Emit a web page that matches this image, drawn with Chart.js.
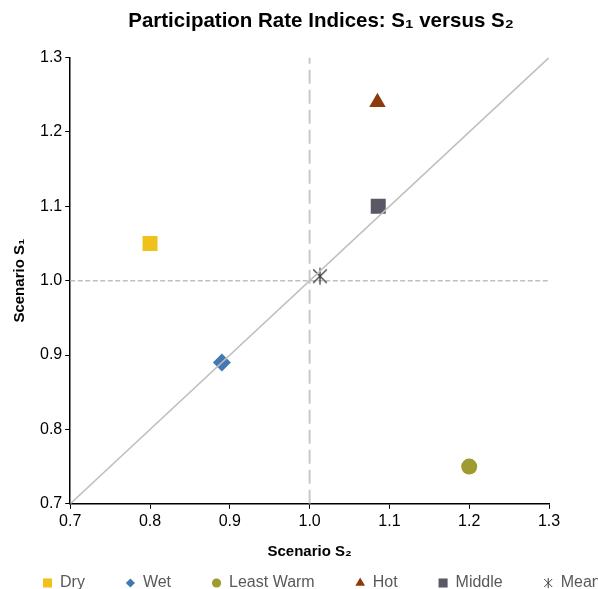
<!DOCTYPE html>
<html>
<head>
<meta charset="utf-8">
<title>Participation Rate Indices</title>
<script src="https://cdn.jsdelivr.net/npm/chart.js@4.4.1/dist/chart.umd.min.js"></script>
<style>
  html, body { margin: 0; padding: 0; background: #fff; overflow: hidden; }
  #wrap { width: 640px; height: 589px; }
</style>
</head>
<body>
<div id="wrap"><canvas id="chart"></canvas></div>
<script>
// scenario indices
const seriesNames = ["Dry", "Wet", "Least Warm", "Hot", "Middle", "Mean"];
const s2Values = [0.80, 0.89, 1.20, 1.085, 1.086, 1.013];
const s1Values = [1.05, 0.89, 0.75, 1.24, 1.10, 1.006];

const axisRange = [0.7, 1.3];
const tickValues = [0.7, 0.8, 0.9, 1.0, 1.1, 1.2, 1.3];
const parityValue = 1.0;

const markerColors = ["#EFC11A", "#4478B0", "#9E9B30", "#8C3A0C", "#5A5767", "#404040"];
const markerStyles = ["rect", "rectRot", "circle", "triangle", "rect", "asterisk"];
const markerRadius = [10.6, 9, 8, 9.5, 10.6, 0];

Chart.defaults.font.family = "'Liberation Sans', Arial, sans-serif";

// Excel-like asterisk marker (x with a vertical bar)
function asteriskImage(size, color) {
  const c = document.createElement("canvas");
  c.width = size; c.height = size;
  const g = c.getContext("2d");
  const m = size / 2, a = size / 2 - 1.5;
  g.strokeStyle = color;
  g.lineWidth = 1.3;
  g.beginPath();
  g.moveTo(m, m - a); g.lineTo(m, m + a);
  g.moveTo(m - a * 0.8, m - a * 0.8); g.lineTo(m + a * 0.8, m + a * 0.8);
  g.moveTo(m + a * 0.8, m - a * 0.8); g.lineTo(m - a * 0.8, m + a * 0.8);
  g.stroke();
  return c;
}

const pointDatasets = seriesNames.map((name, i) => ({
  label: name,
  data: [{ x: s2Values[i], y: s1Values[i] }],
  pointStyle: markerStyles[i] === "asterisk" ? asteriskImage(20, markerColors[i]) : markerStyles[i],
  pointRadius: markerRadius[i] || 8,
  pointHoverRadius: markerRadius[i] || 8,
  backgroundColor: markerColors[i],
  borderColor: markerColors[i],
  pointBorderWidth: 0,
  order: 1
}));

const lineDatasets = [
  {
    label: "diagonal",
    data: axisRange.map(v => ({ x: v, y: v })),
    showLine: true, borderColor: "#BFBFBF", borderWidth: 1.5,
    pointRadius: 0, order: 0
  },
  {
    label: "vertical",
    data: axisRange.map(v => ({ x: parityValue, y: v })),
    showLine: true, borderColor: "#C8C8C8", borderWidth: 2, borderDash: [14, 6],
    pointRadius: 0, order: 2
  },
  {
    label: "horizontal",
    data: axisRange.map(v => ({ x: v, y: parityValue })),
    showLine: true, borderColor: "#BFBFBF", borderWidth: 1.5, borderDash: [5, 2.5],
    pointRadius: 0, order: 2
  }
];

function drawLegendMarker(ctx, i, x, y) {
  const style = markerStyles[i];
  ctx.fillStyle = markerColors[i];
  ctx.strokeStyle = markerColors[i];
  if (style === "asterisk") {
    ctx.lineWidth = 1;
    ctx.beginPath();
    ctx.moveTo(x, y - 5); ctx.lineTo(x, y + 5);
    ctx.moveTo(x - 4, y - 4); ctx.lineTo(x + 4, y + 4);
    ctx.moveTo(x + 4, y - 4); ctx.lineTo(x - 4, y + 4);
    ctx.stroke();
    return;
  }
  const r = { rect: 6.4, rectRot: 4.6, circle: 4.6, triangle: 5.6 }[style];
  if (Chart.helpers && Chart.helpers.drawPoint) {
    Chart.helpers.drawPoint(ctx, { pointStyle: style, radius: r, rotation: 0, borderWidth: 0 }, x, y);
  } else {
    ctx.fillRect(x - 4.5, y - 4.5, 9, 9);
  }
}

const bottomLegend = {
  id: "bottomLegend",
  afterDraw(chart) {
    const ctx = chart.ctx;
    ctx.save();
    ctx.font = "16px 'Liberation Sans', Arial, sans-serif";
    ctx.textBaseline = "middle";
    let x = 43;
    const y = chart.height - 6;
    seriesNames.forEach((name, i) => {
      drawLegendMarker(ctx, i, x + 4.5, y);
      ctx.fillStyle = "#595959";
      ctx.fillText(name, x + 17, y);
      x += 17 + ctx.measureText(name).width + 41;
    });
    ctx.restore();
  }
};

const setTicks = scale => { scale.ticks = tickValues.map(v => ({ value: v })); };

new Chart(document.getElementById("chart"), {
  type: "scatter",
  data: { datasets: [...lineDatasets, ...pointDatasets] },
  options: {
    responsive: true,
    maintainAspectRatio: false,
    animation: false,
    events: [],
    layout: { padding: { left: 2, top: 0, right: 0, bottom: 28 } },
    plugins: {
      legend: { display: false },
      tooltip: { enabled: false },
      title: {
        display: true,
        text: "Participation Rate Indices: S\u2081 versus S\u2082",
        color: "#000",
        font: { size: 20.5, weight: "bold" },
        padding: { top: 9, bottom: 24 }
      }
    },
    scales: {
      x: {
        type: "linear",
        position: "bottom",
        min: axisRange[0], max: axisRange[1],
        afterBuildTicks: setTicks,
        ticks: { color: "#000", font: { size: 16 }, padding: 3, callback: v => v.toFixed(1) },
        grid: { drawOnChartArea: false, tickLength: 5, color: "#000", lineWidth: 1 },
        border: { color: "#000", width: 1.5 },
        title: {
          display: true, text: "Scenario S\u2082", color: "#000",
          font: { size: 15, weight: "bold" }, padding: { top: 9, bottom: 0 }
        }
      },
      y: {
        type: "linear",
        position: "left",
        min: axisRange[0], max: axisRange[1],
        afterBuildTicks: setTicks,
        ticks: { color: "#000", font: { size: 16 }, padding: 3, callback: v => v.toFixed(1) },
        grid: { drawOnChartArea: false, tickLength: 5, color: "#000", lineWidth: 1 },
        border: { color: "#000", width: 1.5 },
        title: {
          display: true, text: "Scenario S\u2081", color: "#000",
          font: { size: 15, weight: "bold" }, padding: { top: 9, bottom: 8 }
        }
      },
      // empty right-hand axis that only holds space
      yRight: {
        type: "linear",
        position: "right",
        min: 0, max: 1,
        ticks: { display: false },
        grid: { display: false },
        border: { display: false },
        afterFit: scale => { scale.width = 91; }
      }
    }
  },
  plugins: [bottomLegend]
});
</script>
</body>
</html>
